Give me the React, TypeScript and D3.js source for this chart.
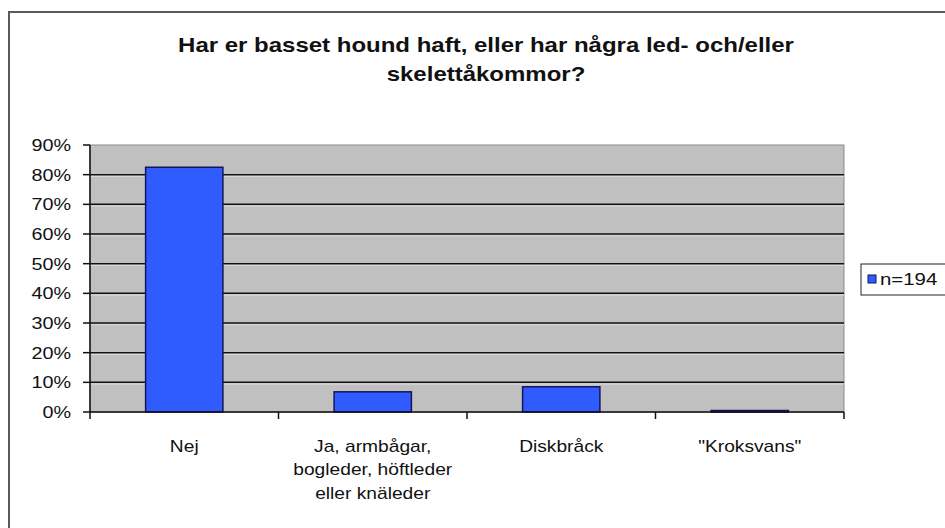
import * as d3 from "d3";

const categories = ["Nej", "Ja, armbågar, bogleder, höftleder eller knäleder", "Diskbråck", "\"Kroksvans\""];
const categoryLines = [["Nej"], ["Ja, armbågar,", "bogleder, höftleder", "eller knäleder"], ["Diskbråck"], ["\"Kroksvans\""]];
const values = [82.5, 6.8, 8.5, 0.5];
const yTicks = [0, 10, 20, 30, 40, 50, 60, 70, 80, 90];
const seriesName = "n=194";
const titleLines = ["Har er basset hound haft, eller har några led- och/eller", "skelettåkommor?"];

const W = 945;
const H = 528;
const FONT = "'Liberation Sans', Arial, sans-serif";
// the source picture is stretched sideways, so the text is too
const SX = 1.2;

function WideText({ x, y, anchor = "middle", size, bold, children }: any) {
  return (
    <text
      transform={`translate(${x},${y}) scale(${SX},1)`}
      textAnchor={anchor}
      fontSize={size}
      fontWeight={bold ? "bold" : "normal"}
      fill="#111"
    >
      {children}
    </text>
  );
}

export default function App() {
  const left = 90;
  const right = 844;
  const top = 145;
  const bottom = 412;

  const x = d3.scaleBand<string>().domain(categories).range([left, right]).paddingInner(0.59).paddingOuter(0.295);
  const band = d3.scaleBand<string>().domain(categories).range([left, right]);
  const y = d3.scaleLinear().domain([0, 90]).range([bottom, top]);

  const boundaries = categories.map((c) => band(c) as number).concat([right]);

  return (
    <svg width={W} height={H} style={{ position: "absolute", left: 0, top: 0, background: "#fff" }} fontFamily={FONT}>
      <rect x={0} y={0} width={W} height={H} fill="#fff" />
      {/* chart frame */}
      <rect x={9} y={12} width={W + 20} height={H + 20} fill="none" stroke="#5a5a5a" strokeWidth={2} />

      {titleLines.map((t, i) => (
        <WideText key={i} x={486} y={52 + i * 29} size={20} bold>
          {t}
        </WideText>
      ))}

      {/* plot area */}
      <rect x={left} y={top} width={right - left} height={bottom - top} fill="#c0c0c0" stroke="#8a8a8a" strokeWidth={1} />
      {yTicks.slice(1, -1).map((t) => (
        <g key={t}>
          <line x1={left} x2={right} y1={y(t)} y2={y(t)} stroke="#111" strokeWidth={1.5} />
          <line x1={left} x2={right} y1={y(t) + 1.7} y2={y(t) + 1.7} stroke="#dcdcdc" strokeWidth={1} />
        </g>
      ))}

      {categories.map((c, i) => (
        <rect
          key={c}
          x={x(c)}
          y={y(values[i])}
          width={x.bandwidth()}
          height={bottom - y(values[i])}
          fill="#2f5bff"
          stroke="#14145a"
          strokeWidth={1.5}
        />
      ))}

      {/* y axis */}
      <line x1={left} x2={left} y1={top} y2={bottom} stroke="#111" strokeWidth={1.5} />
      {yTicks.map((t) => (
        <g key={t}>
          <line x1={left - 7} x2={left} y1={y(t)} y2={y(t)} stroke="#111" strokeWidth={1.5} />
          <WideText x={71} y={y(t) + 6} anchor="end" size={16.5}>
            {t}%
          </WideText>
        </g>
      ))}

      {/* x axis */}
      <line x1={left} x2={right} y1={bottom} y2={bottom} stroke="#111" strokeWidth={1.5} />
      {boundaries.map((b, i) => (
        <line key={i} x1={b} x2={b} y1={bottom} y2={bottom + 7} stroke="#111" strokeWidth={1.5} />
      ))}
      {categories.map((c, i) => (
        <WideText key={c} x={(band(c) as number) + band.bandwidth() / 2} y={452} size={16}>
          {categoryLines[i].map((l, j) => (
            <tspan key={j} x={0} y={j * 23.5}>
              {l}
            </tspan>
          ))}
        </WideText>
      ))}

      {/* legend */}
      <rect x={861} y={264} width={100} height={31} fill="#fff" stroke="#222" strokeWidth={1} />
      <rect x={868} y={275} width={8} height={8} fill="#2f5bff" stroke="#14145a" strokeWidth={1} />
      <WideText x={880} y={285} anchor="start" size={17}>
        {seriesName}
      </WideText>
    </svg>
  );
}
